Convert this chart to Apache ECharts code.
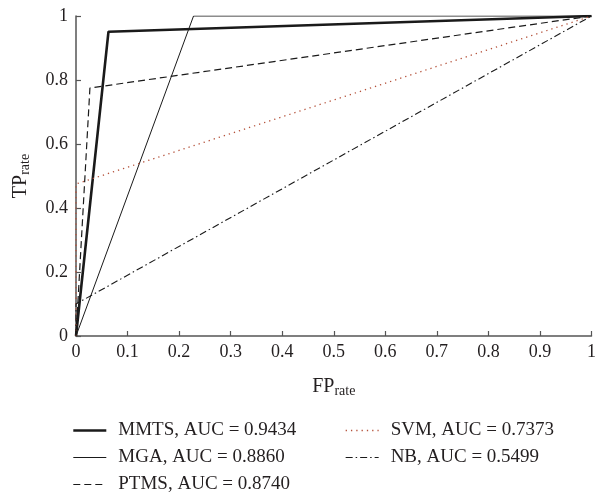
<!DOCTYPE html>
<html>
<head>
<meta charset="utf-8">
<script src="https://cdn.jsdelivr.net/npm/echarts@6/dist/echarts.min.js"></script>
<style>
  html, body { margin: 0; padding: 0; background: #fff; }
  #chart { width: 599px; height: 497px; }
</style>
</head>
<body>
<div id="chart"></div>
<script>
// ROC points [FP rate, TP rate]
let mmts = [[0, 0], [0.063, 0.951], [1, 1]];
let mga = [[0, 0], [0.228, 1], [1, 1]];
let ptms = [[0, 0], [0.027, 0.775], [1, 1]];
let svm = [[0, 0], [0, 0.475], [1, 1]];
let nb = [[0, 0], [0, 0.1], [1, 1]];
let names = ['MMTS, AUC = 0.9434', 'MGA, AUC = 0.8860', 'PTMS, AUC = 0.8740', 'SVM, AUC = 0.7373', 'NB, AUC = 0.5499'];

let font = 'Liberation Serif';
let ink = '#231f20';

// line looks, one per series
let looks = [
  { color: '#1a1a1a', width: 2.6, type: 'solid' },
  { color: '#1a1a1a', width: 1, type: 'solid' },
  { color: '#1a1a1a', width: 1.2, type: [7, 4] },
  { color: '#b5523b', width: 1.3, type: [1.3, 4] },
  { color: '#1a1a1a', width: 1.1, type: [7, 3, 1.5, 3] }
];

function make_series(i, data){
  return {
    name: names[i],
    type: 'line',
    data,
    symbol: 'none',
    animation: false,
    itemStyle: { color: looks[i].color },
    lineStyle: looks[i]
  };
}

function make_legend(idx, left){
  return {
    data: idx.map(i => ({ name: names[i], lineStyle: looks[i] })),
    orient: 'vertical',
    left, top: 421, height: 76,
    padding: 0,
    itemWidth: 33, itemHeight: 12, itemGap: 8,
    itemStyle: { opacity: 0 },
    textStyle: { fontFamily: font, fontSize: 19, color: ink, padding: [0, 0, 0, 7] }
  };
}

let name_rich = {
  a: { fontFamily: font, fontSize: 20, color: ink },
  b: { fontFamily: font, fontSize: 14, color: ink, verticalAlign: 'bottom', padding: [9, 0, 0, 0] }
};

let chart = echarts.init(document.getElementById('chart'));

let opt = {
  backgroundColor: '#fff',
  textStyle: { fontFamily: font, color: ink },
  grid: { left: 76, right: 3, top: 16, bottom: 161, containLabel: false },
  legend: [
    make_legend([0, 1, 2], 72),
    make_legend([3, 4], 345)
  ],
  xAxis: {
    type: 'value', min: 0, max: 1, interval: 0.1,
    name: '{a|FP}{b|rate}',
    nameLocation: 'middle', nameGap: 39,
    nameTextStyle: { rich: name_rich },
    axisLine: { lineStyle: { color: '#555', width: 1.5 } },
    axisTick: { inside: true, length: 5, lineStyle: { color: '#555', width: 1.2 } },
    axisLabel: { fontFamily: font, fontSize: 18, color: ink, margin: 7 },
    splitLine: { show: false }
  },
  yAxis: {
    type: 'value', min: 0, max: 1, interval: 0.2,
    name: '{a|TP}{b|rate}',
    nameLocation: 'middle', nameGap: 44,
    nameTextStyle: { rich: name_rich },
    axisLine: { lineStyle: { color: '#555', width: 1.5 } },
    axisTick: { inside: true, length: 5, lineStyle: { color: '#555', width: 1.2 } },
    axisLabel: { fontFamily: font, fontSize: 18, color: ink, margin: 8 },
    splitLine: { show: false }
  },
  series: [
    make_series(0, mmts),
    make_series(1, mga),
    make_series(2, ptms),
    make_series(3, svm),
    make_series(4, nb)
  ]
};
chart.setOption(opt);
</script>
</body>
</html>
